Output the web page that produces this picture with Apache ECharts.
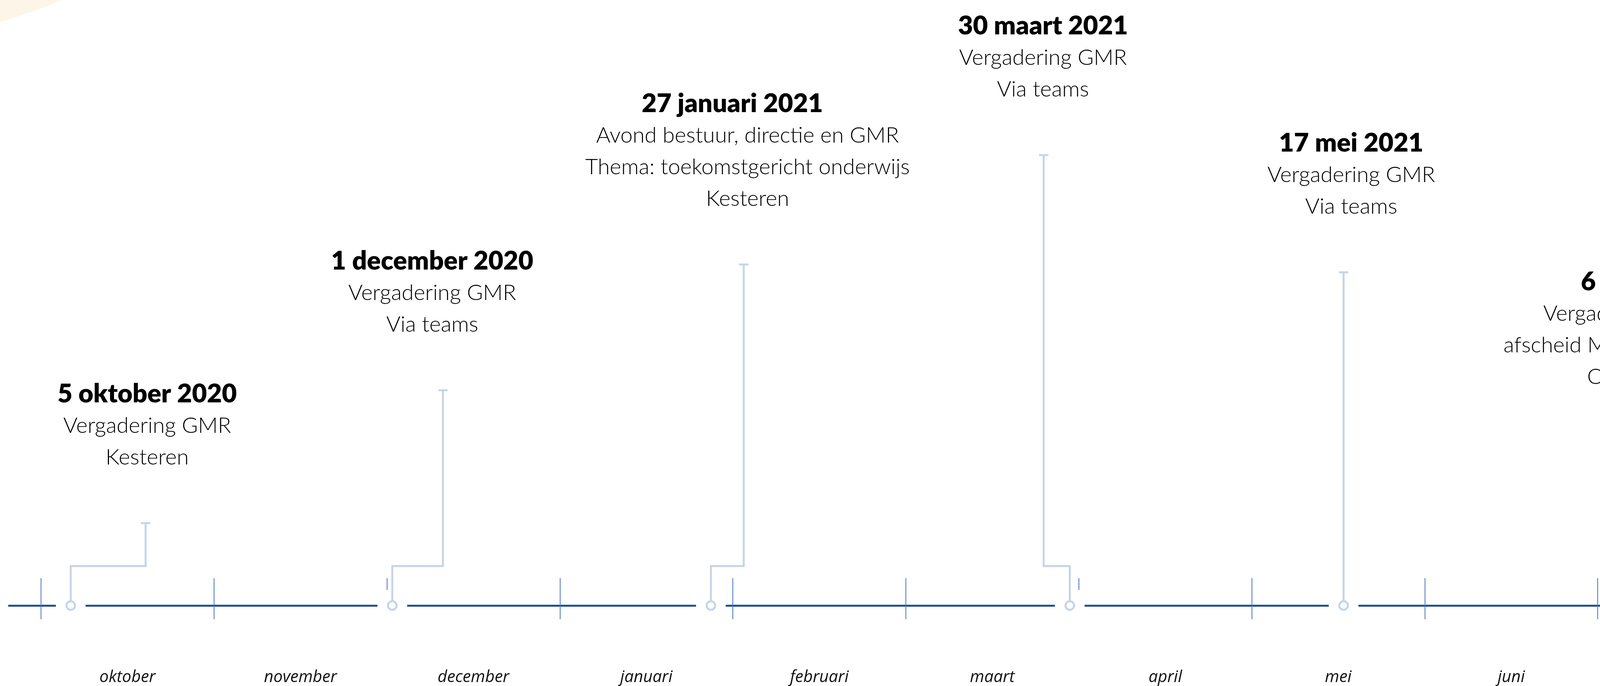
<!DOCTYPE html>
<html>
<head>
<meta charset="utf-8">
<script src="https://cdn.jsdelivr.net/npm/echarts@6/dist/echarts.min.js"></script>
<style>
html,body{margin:0;padding:0;background:#fff;overflow:hidden;}
#c{width:4559px;height:1756px;}
</style>
</head>
<body>
<div id="c"></div>
<script>
// ---- data ----
const months = ['oktober','november','december','januari','februari','maart','april','mei','juni','juli'];
const monthTicks = [0,1,2,3,4,5,6,7,8,9,10];
const monthCenters = [0.5,1.5,2.5,3.5,4.5,5.5,6.5,7.5,8.5,9.5];
const eventTitles = ['5 oktober 2020','1 december 2020','27 januari 2021','30 maart 2021','17 mei 2021','6 juli 2021'];
const eventLines = [
  ['Vergadering GMR','Kesteren'],
  ['Vergadering GMR','Via teams'],
  ['Avond bestuur, directie en GMR','Thema: toekomstgericht onderwijs','Kesteren'],
  ['Vergadering GMR','Via teams'],
  ['Vergadering GMR','Via teams'],
  ['Vergadering GMR en','afscheid Miranda en Margriet','Opheusden']
];
const eventPos = [0.172, 2.031, 3.873, 5.948, 7.531, 9.205];   // marker on timeline (month units)
const stemPos  = [0.605, 2.324, 4.063, 5.797, 7.531, 9.259];   // vertical stem position
const labelPos = [0.614, 2.262, 4.085, 5.793, 7.575, 9.255];   // text centre
const titlePos = [0.614, 2.262, 3.997, 5.793, 7.575, 9.255];   // title centre
const stemTop  = [21.3, 55.3, 87.5, 115.5, 85.5, 41.9];        // stem height
const elbowH = 10.1;

const LIGHT = '#C6D4E8';
const DARK = '#1F4F9B';
const TICK = '#4A75BC';
const GAP = 126, LH = 81;

const chart = echarts.init(document.getElementById('c'), null, {renderer:'canvas'});
const data = eventPos.map((p,i)=>[p, stemPos[i], stemTop[i], labelPos[i], titlePos[i], i]);

function renderItem(params, api){
  const i = api.value(5);
  const m = api.coord([api.value(0), 0]);
  const e1 = api.coord([api.value(0), elbowH]);
  const e2 = api.coord([api.value(1), elbowH]);
  const t = api.coord([api.value(1), api.value(2)]);
  const lp = api.coord([api.value(3), api.value(2)]);
  const tp = api.coord([api.value(4), api.value(2)]);
  const r = 11;
  const pts = [[m[0], m[1]-r-2]];
  if (Math.abs(e1[0]-e2[0]) > 1) { pts.push([e1[0], e1[1]]); pts.push([e2[0], e2[1]]); }
  pts.push([t[0], t[1]]);
  const lines = eventLines[i];
  const bottom = t[1]-GAP;
  return {
    type: 'group',
    children: [
      {type:'rect', shape:{x:m[0]-38, y:m[1]-40, width:76, height:80}, style:{fill:'#fff'}},
      {type:'polyline', shape:{points:pts}, style:{stroke:LIGHT, lineWidth:5, fill:null, lineJoin:'miter'}},
      {type:'line', shape:{x1:t[0]-12, y1:t[1]+2, x2:t[0]+12, y2:t[1]+2}, style:{stroke:LIGHT, lineWidth:5}},
      {type:'circle', shape:{cx:m[0], cy:m[1], r:r}, style:{fill:'#fff', stroke:LIGHT, lineWidth:5}},
      {type:'text', style:{
        text: lines.join('\n'), x: lp[0], y: bottom, align:'center', verticalAlign:'bottom',
        fontFamily:'Lato', fontWeight:300, fontSize:56, lineHeight:LH, fill:'#000'
      }},
      {type:'text', style:{
        text: eventTitles[i], x: tp[0], y: bottom - LH*lines.length, align:'center', verticalAlign:'bottom',
        fontFamily:'Lato', fontWeight:800, fontSize:66, lineHeight:LH, fill:'#000'
      }}
    ]
  };
}

const option = {
  backgroundColor:'#ffffff',
  animation:false,
  graphic:[{type:'circle', z:-10, shape:{cx:-400, cy:-1309, r:1423}, style:{fill:'#FDF5E7'}}],
  grid:{left:23, right:0, top:0, bottom:206},
  xAxis:[
    {type:'value', min:-0.185, max:10.059, position:'bottom',
     axisLine:{show:true, lineStyle:{color:DARK, width:5}},
     axisTick:{show:true, inside:true, length:70, customValues:monthTicks, lineStyle:{color:TICK, width:2}},
     axisLabel:{show:true, customValues:monthCenters, margin:163,
       formatter:(v)=>months[Math.floor(v)] || '',
       fontFamily:'Open Sans', fontStyle:'italic', fontWeight:400, fontSize:42, color:'#111'},
     splitLine:{show:false}},
    {type:'value', min:-0.185, max:10.059, position:'bottom',
     axisLine:{show:false},
     axisTick:{show:true, inside:false, length:35, customValues:monthTicks, lineStyle:{color:TICK, width:2}},
     axisLabel:{show:false}, splitLine:{show:false}}
  ],
  yAxis:{type:'value', min:0, max:155, show:false},
  series:[{type:'custom', renderItem, data, clip:false, xAxisIndex:0, yAxisIndex:0, z:5}]
};
chart.setOption(option);
</script>
</body>
</html>
